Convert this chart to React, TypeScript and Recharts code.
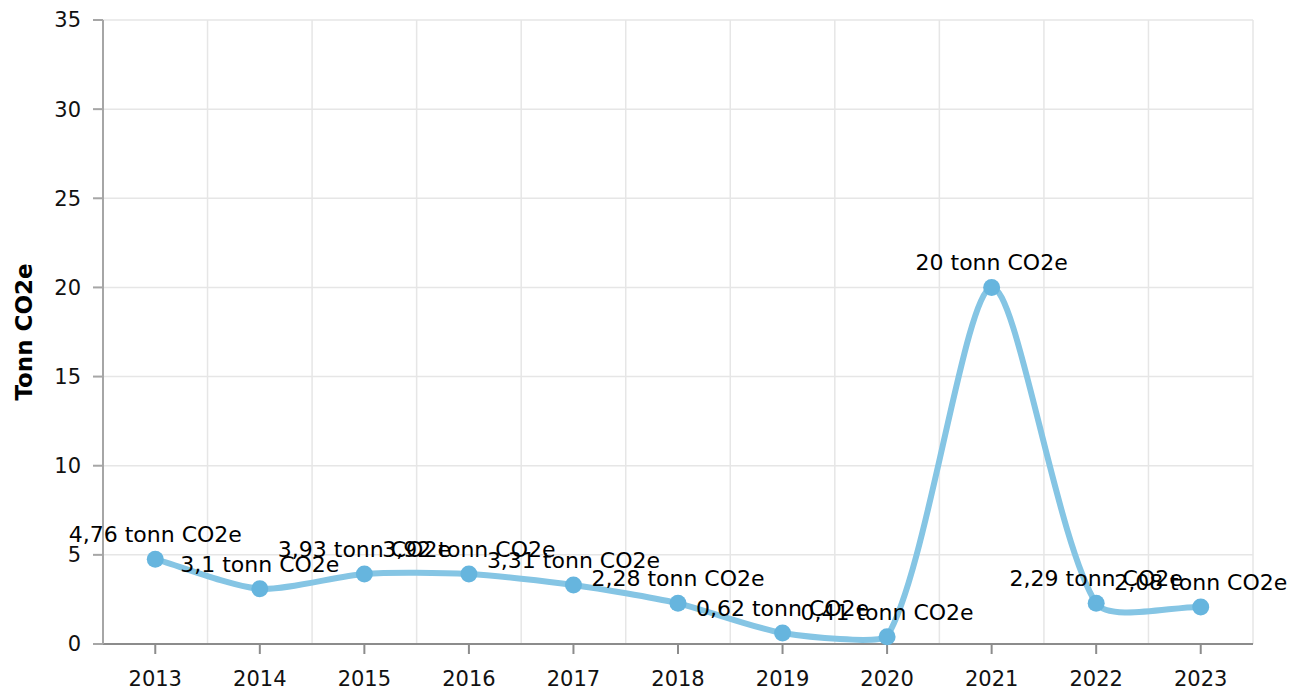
import React from 'react';
import { LineChart, Line, XAxis, YAxis, CartesianGrid, LabelList, Label } from 'recharts';

const YEARS = ['2013', '2014', '2015', '2016', '2017', '2018', '2019', '2020', '2021', '2022', '2023'];
const EMISSIONS = [4.76, 3.1, 3.93, 3.92, 3.31, 2.28, 0.62, 0.41, 20, 2.29, 2.08];
const Y_TICKS = [0, 5, 10, 15, 20, 25, 30, 35];
const UNIT = 'tonn CO2e';

const data = YEARS.map((year, i) => ({ year, value: EMISSIONS[i] }));

const WIDTH = 1308;
const HEIGHT = 695;
const MARGIN = { top: 20, right: 55, bottom: 0, left: 0 };
const X_AXIS_HEIGHT = 51;
const Y_AXIS_WIDTH = 103;
const PLOT_TOP = MARGIN.top;
const PLOT_BOTTOM = HEIGHT - MARGIN.bottom - X_AXIS_HEIGHT;
const PLOT_LEFT = MARGIN.left + Y_AXIS_WIDTH;
const PLOT_RIGHT = WIDTH - MARGIN.right;

const FONT = 'Verdana, "DejaVu Sans", sans-serif';
const LINE_COLOR = '#85c5e4';
const DOT_COLOR = '#66b5de';
const TENSION = 0.25;

// tension spline, control points capped to the plot area
function tensionCurve(context: any) {
  let pts: [number, number][] = [];
  const clamp = (v: number, lo: number, hi: number) => Math.max(lo, Math.min(hi, v));
  return {
    areaStart() {},
    areaEnd() {},
    lineStart() {
      pts = [];
    },
    point(x: number, y: number) {
      pts.push([+x, +y]);
    },
    lineEnd() {
      const n = pts.length;
      if (!n) return;
      context.moveTo(pts[0][0], pts[0][1]);
      if (n === 1) return;
      const prevCp: [number, number][] = [];
      const nextCp: [number, number][] = [];
      for (let i = 0; i < n; i++) {
        const cur = pts[i];
        const prev = i > 0 ? pts[i - 1] : cur;
        const next = i < n - 1 ? pts[i + 1] : cur;
        const d01 = Math.hypot(cur[0] - prev[0], cur[1] - prev[1]);
        const d12 = Math.hypot(next[0] - cur[0], next[1] - cur[1]);
        let s01 = d01 / (d01 + d12);
        let s12 = d12 / (d01 + d12);
        if (isNaN(s01)) s01 = 0;
        if (isNaN(s12)) s12 = 0;
        const fa = TENSION * s01;
        const fb = TENSION * s12;
        prevCp[i] = [
          clamp(cur[0] - fa * (next[0] - prev[0]), PLOT_LEFT, PLOT_RIGHT),
          clamp(cur[1] - fa * (next[1] - prev[1]), PLOT_TOP, PLOT_BOTTOM),
        ];
        nextCp[i] = [
          clamp(cur[0] + fb * (next[0] - prev[0]), PLOT_LEFT, PLOT_RIGHT),
          clamp(cur[1] + fb * (next[1] - prev[1]), PLOT_TOP, PLOT_BOTTOM),
        ];
      }
      for (let i = 1; i < n; i++) {
        context.bezierCurveTo(nextCp[i - 1][0], nextCp[i - 1][1], prevCp[i][0], prevCp[i][1], pts[i][0], pts[i][1]);
      }
    },
  };
}

const formatLabel = (v: any) => `${String(v).replace('.', ',')} ${UNIT}`;

export default function App() {
  return (
    <div style={{ width: WIDTH, height: HEIGHT }}>
      <style>{`body{margin:0}`}</style>
      <LineChart width={WIDTH} height={HEIGHT} data={data} margin={MARGIN} style={{ fontFamily: FONT }}>
        <CartesianGrid
          stroke="#e6e6e6"
          strokeWidth={1.5}
          verticalCoordinatesGenerator={({ offset }: any) =>
            Array.from({ length: YEARS.length + 1 }, (_, i) => offset.left + (i * offset.width) / YEARS.length)
          }
        />
        <XAxis
          dataKey="year"
          scale="band"
          height={X_AXIS_HEIGHT}
          interval={0}
          tickSize={10}
          tickMargin={17}
          axisLine={{ stroke: '#8c8c8c', strokeWidth: 2 }}
          tickLine={{ stroke: '#8c8c8c', strokeWidth: 2 }}
          tick={{ fill: '#111', fontSize: 21, fontFamily: FONT }}
        />
        <YAxis
          width={Y_AXIS_WIDTH}
          domain={[0, 35]}
          ticks={Y_TICKS}
          interval={0}
          tickSize={10}
          tickMargin={12}
          axisLine={{ stroke: '#a6a6a6', strokeWidth: 2 }}
          tickLine={{ stroke: '#a6a6a6', strokeWidth: 2 }}
          tick={{ fill: '#111', fontSize: 21, fontFamily: FONT }}
        >
          <Label
            content={({ viewBox }: any) => {
              const x = viewBox.x + 32;
              const y = PLOT_TOP + (PLOT_BOTTOM - PLOT_TOP) / 2;
              return (
                <text
                  x={x}
                  y={y}
                  transform={`rotate(-90, ${x}, ${y})`}
                  textAnchor="middle"
                  fontFamily={FONT}
                  fontSize={23}
                  fontWeight="bold"
                  fill="#000"
                >
                  Tonn CO2e
                </text>
              );
            }}
          />
        </YAxis>
        <Line
          type={tensionCurve as any}
          dataKey="value"
          stroke={LINE_COLOR}
          strokeWidth={6}
          dot={{ r: 8.5, fill: DOT_COLOR, stroke: DOT_COLOR, strokeWidth: 0 }}
          activeDot={false}
          isAnimationActive={false}
        >
          <LabelList
            dataKey="value"
            position="top"
            offset={17}
            formatter={formatLabel}
            fill="#000"
            fontSize={22}
            fontFamily={FONT}
          />
        </Line>
      </LineChart>
    </div>
  );
}
